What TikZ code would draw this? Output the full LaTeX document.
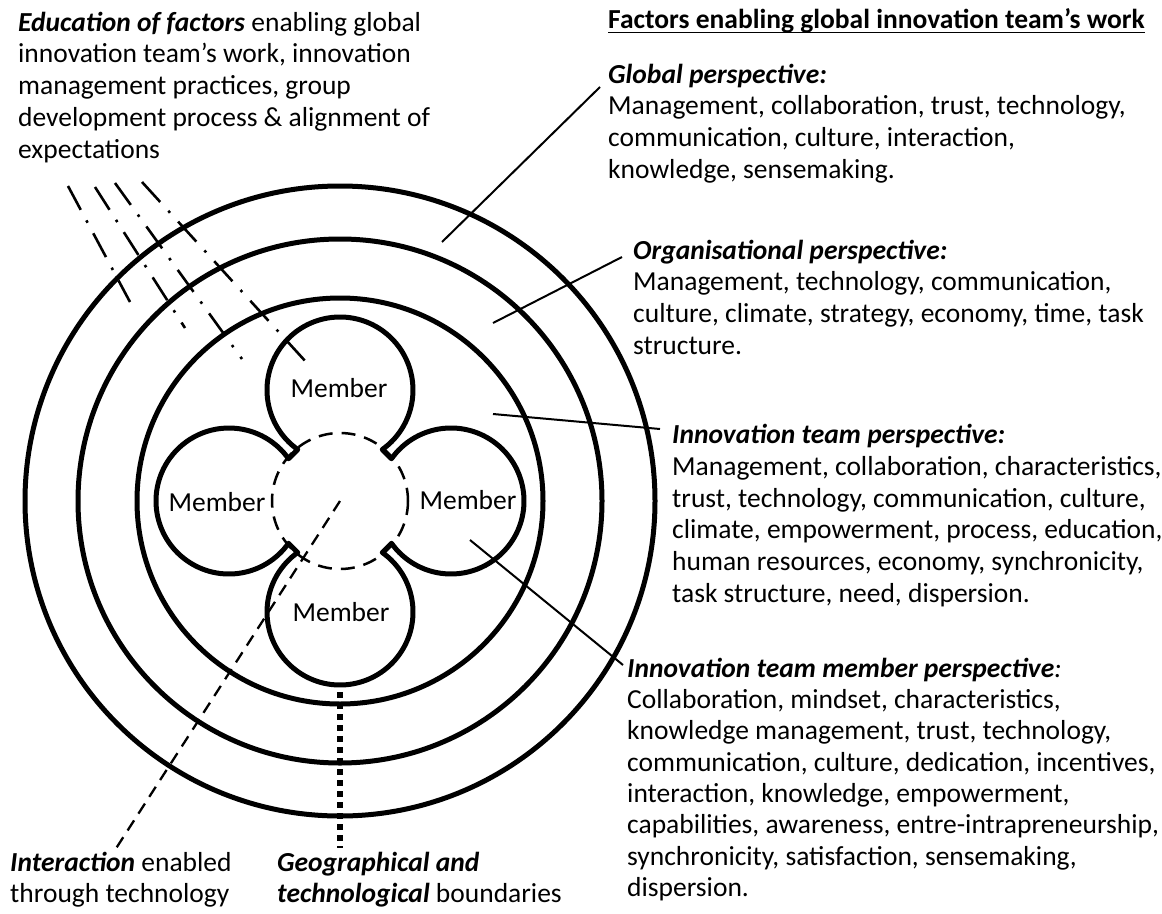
\documentclass[tikz,border=0pt]{standalone}
\usepackage{fontspec}
\setmainfont{Carlito}
\usetikzlibrary{calc}
\begin{document}
\begin{tikzpicture}[x=1pt,y=-1pt,
  ring/.style={line width=5pt},
  lobe/.style={line width=5pt,line join=round},
  core/.style={line width=2.5pt,dash pattern=on 14pt off 9pt},
  leader/.style={line width=2pt},
  edu/.style={line width=2.6pt,dash pattern=on 27pt off 12pt on 2.6pt off 12pt},
  inter/.style={line width=2.3pt,dash pattern=on 12pt off 8pt},
  bound/.style={line width=6.5pt,dash pattern=on 6pt off 5pt},
  txt/.style={inner sep=0pt,anchor=north west,align=left,font=\fontsize{27.5}{31.7}\selectfont},
  txtm/.style={inner sep=0pt,anchor=north west,align=left,font=\fontsize{27.5}{31.3}\selectfont},
  mem/.style={inner sep=0pt,anchor=base,font=\fontsize{27.5}{32}\selectfont}]
\fill[white] (0,0) rectangle (1162,913);
\useasboundingbox (0,0) rectangle (1162,913);
\coordinate (C) at (340,501);
% rings
\draw[ring] (C) circle[radius=315];
\draw[ring] (C) circle[radius=262];
\draw[ring] (C) circle[radius=203];
% member lobes
\draw[lobe] ($(C)+(-90:111)+(-234.6:73)$) arc[start angle=-234.6,end angle=54.6,radius=73]
  -- ($(C)+(0:111)+(-144.6:73)$) arc[start angle=-144.6,end angle=144.6,radius=73]
  -- ($(C)+(90:111)+(-54.6:73)$) arc[start angle=-54.6,end angle=234.6,radius=73]
  -- ($(C)+(180:111)+(35.4:73)$) arc[start angle=35.4,end angle=324.6,radius=73]
  -- cycle;
\draw[core] (C) circle[radius=68];
% member labels
\node[mem] (m1) at (339,397) {Member};
\node[mem] (m2) at (468,509) {Member};
\node[mem] (m3) at (341,621) {Member};
\node[mem] (m4) at (217,511) {Member};
% texts
\node[txt] (edu) at (18,8.81) {\strut\textbf{\textit{Education of factors}} enabling global\\
innovation team’s work, innovation\\
management practices, group\\
development process \& alignment of\\
expectations};
\node[inner sep=0pt,anchor=base west,font=\fontsize{27.5}{32}\selectfont\bfseries] (title) at (608,28) {Factors enabling global innovation team’s work};
\draw[line width=1.6pt] ([yshift=-4.5pt]title.base west) -- ([yshift=-4.5pt]title.base east);
\node[txt] (glob) at (608,60.81) {\strut\textbf{\textit{Global perspective:}}\\
Management, collaboration, trust, technology,\\
communication, culture, interaction,\\
knowledge, sensemaking.};
\node[txt] (org) at (633,236.81) {\strut\textbf{\textit{Organisational perspective:}}\\
Management, technology, communication,\\
culture, climate, strategy, economy, time, task\\
structure.};
\node[txt] (team) at (672,421.31) {\strut\textbf{\textit{Innovation team perspective:}}\\
Management, collaboration, characteristics,\\
trust, technology, communication, culture,\\
climate, empowerment, process, education,\\
human resources, economy, synchronicity,\\
task structure, need, dispersion.};
\node[txtm] (memb) at (627,655.09) {\strut\textbf{\textit{Innovation team member perspective}}\textit{:}\\
Collaboration, mindset, characteristics,\\
knowledge management, trust, technology,\\
communication, culture, dedication, incentives,\\
interaction, knowledge, empowerment,\\
capabilities, awareness, entre-intrapreneurship,\\
synchronicity, satisfaction, sensemaking,\\
dispersion.};
\node[txt] (inter) at (10,848.81) {\strut\textbf{\textit{Interaction}} enabled\\
through technology};
\node[txt] (geo) at (277,848.81) {\strut\textbf{\textit{Geographical and}}\\
\textbf{\textit{technological}} boundaries};
% leader lines
\coordinate (gA) at (442,242); \coordinate (gB) at (600,87);
\coordinate (oA) at (493,323); \coordinate (oB) at (622,257);
\coordinate (tA) at (493,414); \coordinate (tB) at (660,429);
\coordinate (mA) at (470,540); \coordinate (mB) at (623,665);
\draw[leader] (gA) -- (gB);
\draw[leader] (oA) -- (oB);
\draw[leader] (tA) -- (tB);
\draw[leader] (mA) -- (mB);
% education lines
\coordinate (e1a) at (68,186);  \coordinate (e1b) at (130,302);
\coordinate (e2a) at (95,187);  \coordinate (e2b) at (185,328);
\coordinate (e3a) at (115,183); \coordinate (e3b) at (242,359);
\coordinate (e4a) at (142,182); \coordinate (e4b) at (307,363);
\draw[edu] (e1a) -- (e1b);
\draw[edu] (e2a) -- (e2b);
\draw[edu] (e3a) -- (e3b);
\draw[edu] (e4a) -- (e4b);
% interaction and boundaries
\coordinate (iA) at (115,850);
\draw[inter] (C) -- (iA);
\coordinate (bA) at (340,692); \coordinate (bB) at (340,848);
\draw[bound] (bA) -- (bB);
\end{tikzpicture}
\end{document}
